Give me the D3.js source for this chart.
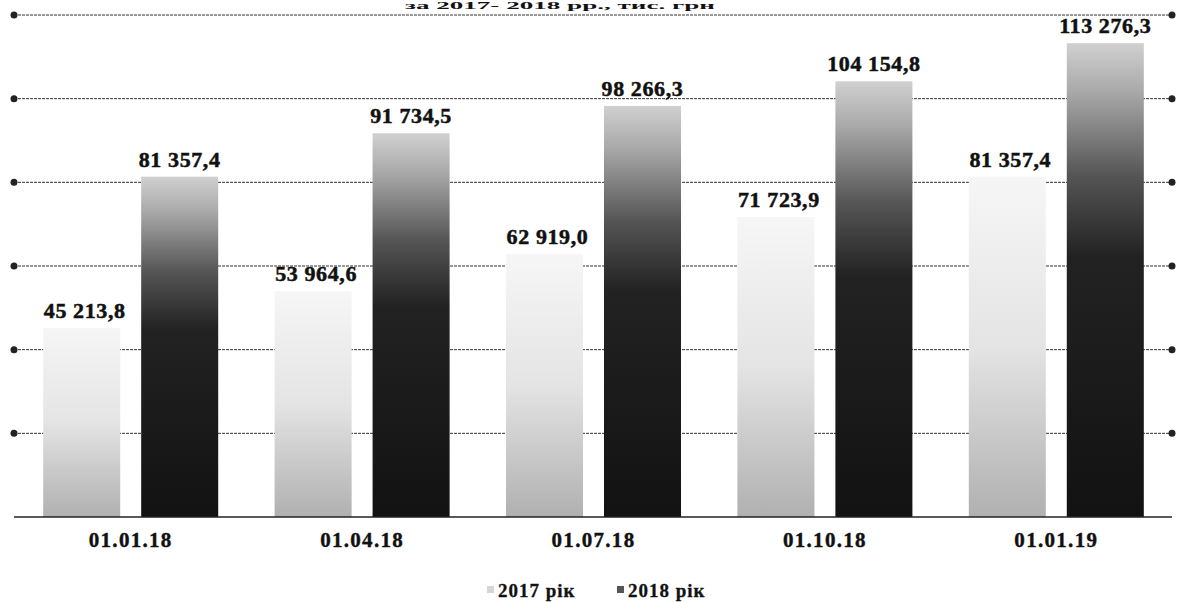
<!DOCTYPE html>
<html>
<head>
<meta charset="utf-8">
<script src="https://cdn.jsdelivr.net/npm/d3@7"></script>
<style>
  html, body { margin: 0; padding: 0; background: #fff; }
  svg { display: block; }
  text { font-family: "Liberation Serif", "Times New Roman", serif; font-weight: bold; fill: #111; }
</style>
</head>
<body>
<svg id="chart" width="1182" height="602"></svg>
<script>
// ---- data ----
const categories = ["01.01.18", "01.04.18", "01.07.18", "01.10.18", "01.01.19"];
const seriesNames = ["2017 рік", "2018 рік"];
const values2017 = [45213.8, 53964.6, 62919.0, 71723.9, 81357.4];
const values2018 = [81357.4, 91734.5, 98266.3, 104154.8, 113276.3];
const gridTicks = [20000, 40000, 60000, 80000, 100000, 120000];
const titleText = "за 2017- 2018 рр., тис. грн";

const fmt = v => {
  const s = v.toFixed(1).replace(".", ",");
  const [ip, dp] = s.split(",");
  return ip.replace(/\B(?=(\d{3})+(?!\d))/g, " ") + "," + dp;
};

const svg = d3.select("#chart");

const x0 = d3.scaleBand().domain(categories).range([15, 1172]).paddingInner(0.2437).paddingOuter(0.12185);
const x1 = d3.scaleBand().domain(seriesNames).range([0, x0.bandwidth()]).paddingInner(0.214);
const y = d3.scaleLinear().domain([0, 120000]).range([517, 15]);

// gradients
const defs = svg.append("defs");
const g17 = defs.append("linearGradient").attr("id", "g17").attr("x1", 0).attr("y1", 0).attr("x2", 0).attr("y2", 1);
[[0, "#f6f6f6"], [0.5, "#e4e4e4"], [1, "#b0b0b0"]].forEach(([o, c]) => g17.append("stop").attr("offset", o).attr("stop-color", c));
const g18 = defs.append("linearGradient").attr("id", "g18").attr("x1", 0).attr("y1", 0).attr("x2", 0).attr("y2", 1);
[[0, "#d0d0d0"], [0.1, "#aaaaaa"], [0.28, "#555555"], [0.45, "#222222"], [1, "#121212"]].forEach(([o, c]) => g18.append("stop").attr("offset", o).attr("stop-color", c));

// title (reference shows it clipped at the top edge; kept fully visible but small)
svg.append("text").attr("x", 560).attr("y", 9).attr("text-anchor", "middle")
  .style("font-size", "11px").attr("textLength", 310).attr("lengthAdjust", "spacingAndGlyphs")
  .text(titleText);

// gridlines
const grid = svg.append("g");
gridTicks.forEach(t => {
  grid.append("line").attr("x1", 14).attr("x2", 1172).attr("y1", y(t)).attr("y2", y(t))
    .attr("stroke", "#333").attr("stroke-width", 1).attr("stroke-dasharray", "3,1");
  grid.append("circle").attr("cx", 14).attr("cy", y(t)).attr("r", 3.5).attr("fill", "#222");
  grid.append("circle").attr("cx", 1172).attr("cy", y(t)).attr("r", 3.5).attr("fill", "#222");
});

// bars
const rows = categories.map((c, i) => ({ cat: c, vals: [values2017[i], values2018[i]] }));
const groups = svg.append("g").selectAll("g").data(rows).join("g")
  .attr("transform", d => `translate(${x0(d.cat)},0)`);

groups.selectAll("rect").data(d => d.vals.map((v, j) => ({ s: seriesNames[j], v, j }))).join("rect")
  .attr("x", d => x1(d.s)).attr("width", x1.bandwidth())
  .attr("y", d => y(d.v)).attr("height", d => y(0) - y(d.v))
  .attr("fill", d => d.j === 0 ? "url(#g17)" : "url(#g18)");

groups.selectAll("text.val").data(d => d.vals.map((v, j) => ({ s: seriesNames[j], v, j }))).join("text")
  .attr("class", "val")
  .attr("x", d => x1(d.s) + x1.bandwidth() / 2 + (d.j === 0 ? 3 : 0))
  .attr("y", d => y(d.v) - 10)
  .attr("text-anchor", "middle").style("font-size", "22px").style("letter-spacing", "0.6px")
  .attr("stroke", "#111").attr("stroke-width", 0.5)
  .text(d => fmt(d.v));

// baseline
svg.append("line").attr("x1", 14).attr("x2", 1172).attr("y1", y(0)).attr("y2", y(0))
  .attr("stroke", "#222").attr("stroke-width", 1.5);

// category axis labels
const xAxis = d3.axisBottom(x0).tickSize(0).tickPadding(0);
const ax = svg.append("g").attr("transform", `translate(0,${y(0)})`).call(xAxis);
ax.select(".domain").remove();
ax.selectAll("text").attr("dy", 0).attr("y", 30)
  .style("font-size", "21px").style("letter-spacing", "1.3px")
  .style("font-family", "'Liberation Serif', serif").style("font-weight", "bold")
  .attr("fill", "#111").attr("stroke", "#111").attr("stroke-width", 0.4);

// legend
const legend = svg.append("g");
const legendItems = [
  { name: seriesNames[0], x: 498, fill: "#d6d6d6" },
  { name: seriesNames[1], x: 628, fill: "#555" }
];
legendItems.forEach(it => {
  legend.append("rect").attr("x", it.x - 11).attr("y", 586).attr("width", 7).attr("height", 7).attr("fill", it.fill);
  legend.append("text").attr("x", it.x).attr("y", 597).style("font-size", "19px").style("letter-spacing", "1px")
    .attr("stroke", "#111").attr("stroke-width", 0.3).text(it.name);
});
</script>
</body>
</html>
